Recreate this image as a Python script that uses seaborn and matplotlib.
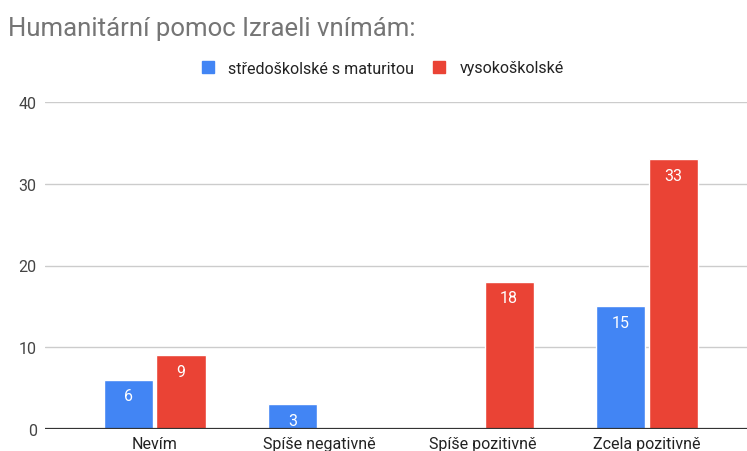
import numpy as np
import pandas as pd
import matplotlib
matplotlib.use("Agg")
import matplotlib.pyplot as plt
import seaborn as sns

categories = ["Nevím", "Spíše negativně", "Spíše pozitivně", "Zcela pozitivně"]
series_names = ["středoškolské s maturitou", "vysokoškolské"]
stredoskolske = [6, 3, np.nan, 15]
vysokoskolske = [9, np.nan, 18, 33]
y_ticks = [0, 10, 20, 30, 40]
title = "Humanitární pomoc Izraeli vnímám:"

colors = ["#4285F4", "#EA4335"]

df = pd.DataFrame({
    "kategorie": categories * 2,
    "vzdělání": [series_names[0]] * 4 + [series_names[1]] * 4,
    "počet": stredoskolske + vysokoskolske,
})

sns.set_style("white")
plt.rcParams["font.family"] = ["Roboto", "DejaVu Sans"]

fig = plt.figure(figsize=(7.47, 4.52), dpi=100)
ax = fig.add_axes([45 / 747, 22 / 452, 702 / 747, (430 - 103) / 452])

sns.barplot(data=df, x="kategorie", y="počet", hue="vzdělání",
            palette=colors, width=0.64, gap=0.06, ax=ax,
            saturation=1, legend=False, errorbar=None)

ax.set_xlim(-0.67, 3.61)
ax.set_ylim(0, 40)
ax.set_yticks(y_ticks)
ax.set_yticklabels([str(t) for t in y_ticks])
ax.set_xlabel("")
ax.set_ylabel("")
for s in ax.spines.values():
    s.set_visible(False)
ax.grid(axis="y", color="#CCCCCC", linewidth=1)
ax.set_axisbelow(True)
ax.axhline(0, color="#333333", linewidth=1.6, zorder=3)
ax.tick_params(axis="y", length=0, pad=6, labelsize=11.5, labelcolor="#444444")
ax.tick_params(axis="x", length=0, pad=5, labelsize=11.5, labelcolor="#222222")

for container in ax.containers:
    for patch in container:
        h = patch.get_height()
        if np.isnan(h) or h == 0:
            continue
        ax.annotate(f"{h:g}", (patch.get_x() + patch.get_width() / 2, h),
                    xytext=(0, -11.5), textcoords="offset points",
                    ha="center", va="center", color="white", fontsize=11.5)

fig.text(8 / 747, 1 - 29 / 452, title, fontsize=18.5, color="#757575",
         ha="left", va="center")

handles = [plt.Rectangle((0, 0), 1, 1, color=c) for c in colors]
fig.legend(handles, series_names, loc="center", bbox_to_anchor=(383 / 747, 1 - 69 / 452),
           ncol=2, frameon=False, fontsize=11.5, handlelength=0.75, handleheight=0.75,
           handletextpad=0.9, columnspacing=1.2, labelcolor="#222222")

fig.savefig("out.png", dpi=100)
